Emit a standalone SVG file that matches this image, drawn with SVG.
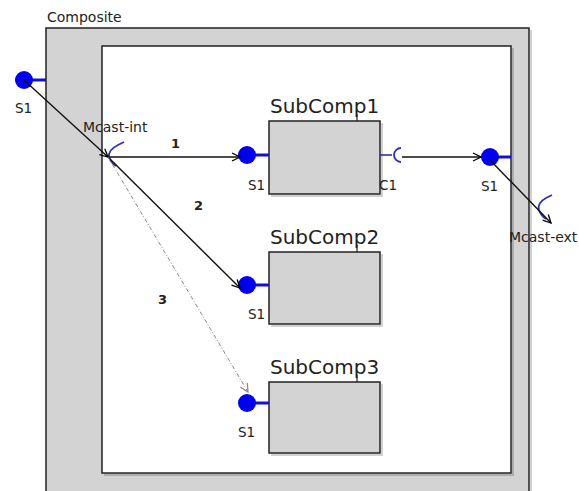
<svg xmlns="http://www.w3.org/2000/svg" width="579" height="491" viewBox="0 0 579 491">
<defs>
<marker id="ah" viewBox="0 0 10 10" refX="9" refY="5" markerWidth="10" markerHeight="10" markerUnits="userSpaceOnUse" orient="auto">
<path d="M1,1 L9,5 L1,9" fill="none" stroke="#000" stroke-width="1.3"/>
</marker>
<marker id="ahg" viewBox="0 0 10 10" refX="9" refY="5" markerWidth="10" markerHeight="10" markerUnits="userSpaceOnUse" orient="auto">
<path d="M1,1 L9,5 L1,9" fill="none" stroke="#888" stroke-width="1.2"/>
</marker>
</defs>
<style>
text{font-family:"DejaVu Sans",sans-serif;fill:#222}
.lbl{font-size:13.5px}
.title{font-size:20px}
.num{font-size:13px;font-weight:bold}
.box{fill:#d3d3d3;stroke:#222;stroke-width:1.5}
.shadow{fill:none;stroke:#000;stroke-opacity:0.18;stroke-width:2}
.port{fill:#0000ee}
.stem{stroke:#1010dd;stroke-width:3}
.sock{fill:none;stroke:#3030b0;stroke-width:1.8}
.conn{fill:none;stroke:#111;stroke-width:1.4;marker-end:url(#ah)}
.conn3{fill:none;stroke:#888;stroke-width:1;stroke-dasharray:4 2 1 2;marker-end:url(#ahg)}
</style>
<rect width="579" height="491" fill="#fff"/>
<g id="Composite">
<path class="shadow" d="M531,30 L531,495"/>
<rect x="46" y="28" width="483" height="470" class="box"/>
<path class="shadow" d="M513,48 L513,475 L104,475"/>
<rect x="102" y="46" width="409" height="427" fill="#fff" stroke="#222" stroke-width="1.5"/>
<text x="47" y="22" style="font-size:14px">Composite</text>
</g>
<g id="Composite-S1">
<line x1="24" y1="80" x2="46" y2="80" class="stem"/>
<circle cx="24" cy="80" r="9" class="port"/>
<text x="15" y="113" class="lbl">S1</text>
</g>
<g id="Mcast-int">
<path class="sock" d="M124,142 L118,145 Q108,150 109,157 Q111,163 116,166"/>
<text x="83" y="132" style="font-size:14px">Mcast-int</text>
</g>
<g id="Composite-S1-ext">
<line x1="490" y1="157" x2="511" y2="157" class="stem"/>
<circle cx="490" cy="157" r="9" class="port"/>
<text x="481" y="191" class="lbl">S1</text>
</g>
<g id="Mcast-ext">
<path class="sock" d="M552,195 L546,198 Q537,203 539,210 Q541,216 546,219"/>
<text x="509" y="242" style="font-size:14px">Mcast-ext</text>
</g>
<g id="SubComp1">
<path class="shadow" d="M382,123 L382,196 L271,196"/>
<rect x="269" y="121" width="111" height="73" class="box"/>
<line x1="357" y1="114" x2="357" y2="121" stroke="#222" stroke-width="1.2"/>
<text x="270" y="113" class="title">SubComp1</text>
<line x1="247" y1="155" x2="269" y2="155" class="stem"/>
<circle cx="247" cy="155" r="9" class="port"/>
<text x="248" y="190" class="lbl">S1</text>
<line x1="380" y1="155" x2="392" y2="155" stroke="#3030b0" stroke-width="1.6"/>
<path class="sock" d="M401,148 A7,7 0 0,0 401,162"/>
<text x="379" y="190" class="lbl">C1</text>
</g>
<g id="SubComp2">
<path class="shadow" d="M382,254 L382,326 L271,326"/>
<rect x="269" y="252" width="111" height="72" class="box"/>
<line x1="357" y1="245" x2="357" y2="252" stroke="#222" stroke-width="1.2"/>
<text x="270" y="244" class="title">SubComp2</text>
<line x1="247" y1="285" x2="269" y2="285" class="stem"/>
<circle cx="247" cy="285" r="9" class="port"/>
<text x="248" y="319" class="lbl">S1</text>
</g>
<g id="SubComp3">
<path class="shadow" d="M382,384 L382,455 L271,455"/>
<rect x="269" y="382" width="111" height="71" class="box"/>
<line x1="357" y1="375" x2="357" y2="382" stroke="#222" stroke-width="1.2"/>
<text x="270" y="374" class="title">SubComp3</text>
<line x1="247" y1="403" x2="269" y2="403" class="stem"/>
<circle cx="247" cy="403" r="9" class="port"/>
<text x="238" y="437" class="lbl">S1</text>
</g>
<g id="connectors">
<line x1="24" y1="80" x2="108" y2="157" class="conn"/>
<line x1="108" y1="157" x2="240" y2="157" class="conn"/>
<line x1="108" y1="157" x2="240" y2="288" class="conn"/>
<line x1="108" y1="157" x2="248" y2="392" class="conn3"/>
<line x1="402" y1="157" x2="481" y2="157" class="conn"/>
<line x1="490" y1="160" x2="551" y2="223" class="conn"/>
<text x="171" y="148" class="num">1</text>
<text x="194" y="210" class="num">2</text>
<text x="158" y="304" class="num">3</text>
</g>
</svg>
